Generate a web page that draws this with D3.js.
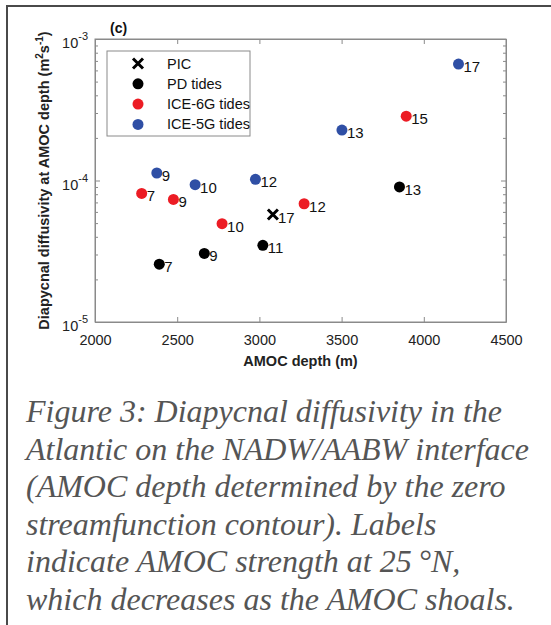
<!DOCTYPE html>
<meta charset="utf-8">
<style>
body { margin: 0; background: #fff; }
svg { display: block; }
.axis text { font: 14.5px "Liberation Sans", Arial, sans-serif; fill: #222; }
.axis path, .axis line { stroke: #8a8a8a; }
.lbl { font: 15px "Liberation Sans", Arial, sans-serif; fill: #111; }
.caption { font: italic 32px "Liberation Serif", "Times New Roman", serif; fill: #555; }
</style>
<svg width="551" height="625"></svg>
<script src="https://cdnjs.cloudflare.com/ajax/libs/d3/7.8.5/d3.min.js"></script>
<script>

// AMOC depth (m), diffusivity (m2/s), AMOC strength label (Sv)
var pdDepth = [2391, 2665, 3021, 3852],
    pdKappa = [2.56e-5, 3.05e-5, 3.48e-5, 9.0e-5],
    pdLabel = [7, 9, 11, 13];

var ice6Depth = [2284, 2477, 2773, 3272, 3893],
    ice6Kappa = [8.1e-5, 7.35e-5, 4.95e-5, 6.85e-5, 2.85e-4],
    ice6Label = [7, 9, 10, 12, 15];

var ice5Depth = [2376, 2609, 2976, 3502, 4211],
    ice5Kappa = [1.13e-4, 9.35e-5, 1.02e-4, 2.27e-4, 6.65e-4],
    ice5Label = [9, 10, 12, 13, 17];

var picDepth = [3082],
    picKappa = [5.75e-5],
    picLabel = [17];

var xTicks = [2000, 2500, 3000, 3500, 4000, 4500],
    yTicks = [1e-5, 1e-4, 1e-3],
    legendNames = ["PIC", "PD tides", "ICE-6G tides", "ICE-5G tides"];

var captionLines = [
  "Figure 3: Diapycnal diffusivity in the",
  "Atlantic on the NADW/AABW interface",
  "(AMOC depth determined by the zero",
  "streamfunction contour). Labels",
  "indicate AMOC strength at 25\u2009\u00b0N,",
  "which decreases as the AMOC shoals."
];

var svg = d3.select("svg"),
    margin = {top: 39, left: 95},
    width = 411,
    height = 283,
    g = svg.append("g").attr("transform", "translate(" + margin.left + "," + margin.top + ")");

// outer frame
svg.append("path")
    .attr("d", "M551,6H7V625")
    .attr("fill", "none")
    .attr("stroke", "#4a4a4a")
    .attr("stroke-width", 2);

var x = d3.scaleLinear().domain([2000, 4500]).range([0, width]),
    y = d3.scaleLog().domain([1e-5, 1e-3]).range([height, 0]);

var minor = y.ticks().filter(function(t) { return yTicks.indexOf(t) < 0; });

g.append("g")
    .attr("class", "axis")
    .attr("transform", "translate(0," + height + ")")
    .call(d3.axisBottom(x).tickValues(xTicks).tickSizeInner(-5).tickSizeOuter(0).tickPadding(13).tickFormat(d3.format("d")));

g.append("g")
    .attr("class", "axis")
    .call(d3.axisTop(x).tickValues(xTicks).tickSizeInner(-5).tickSizeOuter(0).tickFormat(""));

[["left", d3.axisLeft, 0], ["right", d3.axisRight, width]].forEach(function(s) {
  var ax = g.append("g").attr("class", "axis").attr("transform", "translate(" + s[2] + ",0)");
  ax.call(s[1](y).tickValues(yTicks).tickSizeInner(-5).tickSizeOuter(0).tickFormat(""));
  ax.append("g").call(s[1](y).tickValues(minor).tickSizeInner(-3).tickSizeOuter(0).tickFormat(""))
    .select(".domain").remove();
});

g.selectAll(".axis .domain").attr("stroke", "#8a8a8a");

// log tick labels 10^n
var yl = g.append("g").attr("class", "axis");
yTicks.forEach(function(t) {
  var txt = yl.append("text")
      .attr("x", -7)
      .attr("y", y(t) + 9)
      .attr("text-anchor", "end");
  txt.append("tspan").text("10");
  txt.append("tspan").attr("dy", -8).style("font-size", "11px").text(Math.round(Math.log10(t)));
});

// axis labels
svg.append("text")
    .attr("x", margin.left + width / 2)
    .attr("y", 366)
    .attr("text-anchor", "middle")
    .style("font", "bold 14.5px 'Liberation Sans', Arial, sans-serif")
    .style("fill", "#222")
    .text("AMOC depth (m)");

var ylab = svg.append("text")
    .attr("transform", "translate(49," + (margin.top + y(1e-4)) + ") rotate(-90)")
    .attr("text-anchor", "middle")
    .style("font", "bold 14.5px 'Liberation Sans', Arial, sans-serif")
    .style("fill", "#222");
ylab.append("tspan").text("Diapycnal diffusivity at AMOC depth (m");
ylab.append("tspan").attr("dy", -6).style("font-size", "10px").text("2");
ylab.append("tspan").attr("dy", 6).text("s");
ylab.append("tspan").attr("dy", -6).style("font-size", "10px").text("-1");
ylab.append("tspan").attr("dy", 6).text(")");

svg.append("text")
    .attr("x", 110)
    .attr("y", 33)
    .style("font", "bold 14px 'Liberation Sans', Arial, sans-serif")
    .style("fill", "#111")
    .text("(c)");

// plot box
g.append("rect")
    .attr("width", width)
    .attr("height", height)
    .attr("fill", "none")
    .attr("stroke", "#8a8a8a");

var series = [
  {depth: pdDepth, kappa: pdKappa, label: pdLabel, color: "#000000"},
  {depth: ice6Depth, kappa: ice6Kappa, label: ice6Label, color: "#ec1c24"},
  {depth: ice5Depth, kappa: ice5Kappa, label: ice5Label, color: "#2f4fa5"}
];

function cross(sel, cx, cy, r) {
  sel.append("path")
      .attr("d", "M" + (cx - r) + "," + (cy - r) + "L" + (cx + r) + "," + (cy + r) +
                 "M" + (cx - r) + "," + (cy + r) + "L" + (cx + r) + "," + (cy - r))
      .attr("stroke", "#000")
      .attr("stroke-width", 3);
}

series.forEach(function(s) {
  var pts = s.depth.map(function(d, i) { return {d: d, k: s.kappa[i], l: s.label[i]}; });
  var pg = g.append("g");
  pg.selectAll("circle")
    .data(pts)
    .enter().append("circle")
      .attr("cx", function(p) { return x(p.d); })
      .attr("cy", function(p) { return y(p.k); })
      .attr("r", 5.5)
      .attr("fill", s.color);
  pg.selectAll("text")
    .data(pts)
    .enter().append("text")
      .attr("class", "lbl")
      .attr("x", function(p) { return x(p.d) + 5; })
      .attr("y", function(p) { return y(p.k) + 8; })
      .text(function(p) { return p.l; });
});

picDepth.forEach(function(d, i) {
  cross(g, x(d), y(picKappa[i]), 5);
  g.append("text")
      .attr("class", "lbl")
      .attr("x", x(d) + 5)
      .attr("y", y(picKappa[i]) + 8)
      .text(picLabel[i]);
});

// legend
var lg = svg.append("g").attr("transform", "translate(107,51)");
lg.append("rect")
    .attr("width", 143)
    .attr("height", 85)
    .attr("fill", "#fff")
    .attr("stroke", "#8a8a8a");
var legendColors = [null, "#000000", "#ec1c24", "#2f4fa5"];
legendNames.forEach(function(n, i) {
  var ly = 12.5 + i * 20.3;
  if (i === 0) cross(lg, 31, ly, 5);
  else lg.append("circle").attr("cx", 31).attr("cy", ly).attr("r", 5.5).attr("fill", legendColors[i]);
  lg.append("text")
      .attr("x", 60)
      .attr("y", ly + 5)
      .style("font", "14.5px 'Liberation Sans', Arial, sans-serif")
      .style("fill", "#111")
      .text(n);
});

// caption
svg.append("g").selectAll("text")
  .data(captionLines)
  .enter().append("text")
    .attr("class", "caption")
    .attr("x", 26)
    .attr("y", function(d, i) { return 422 + i * 37.5; })
    .text(function(d) { return d; });

</script>
